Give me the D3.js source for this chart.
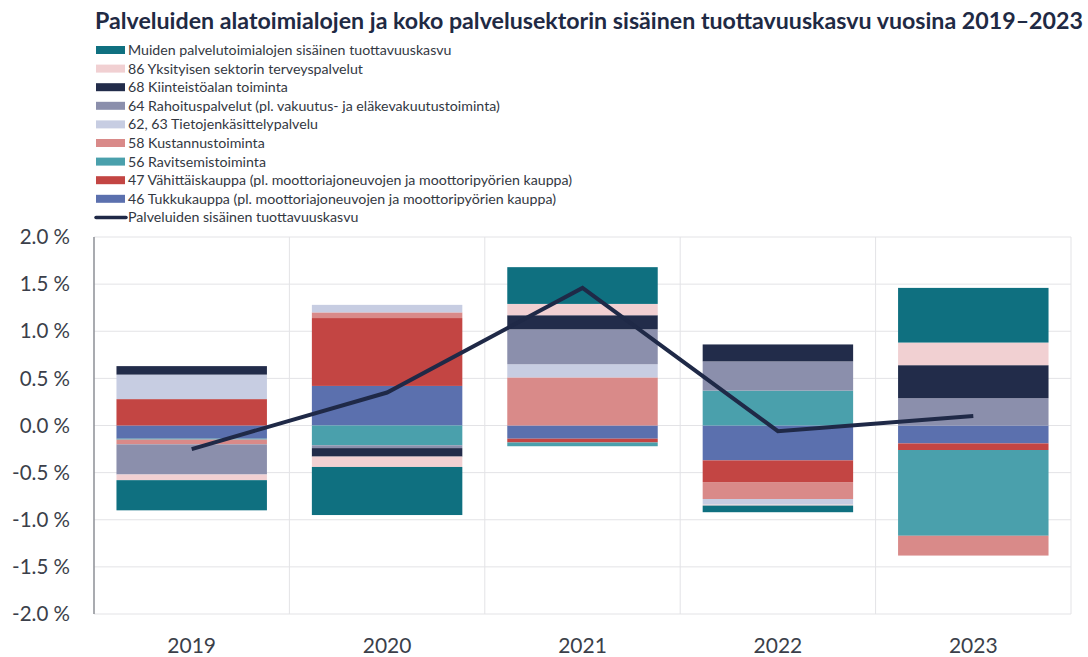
<!DOCTYPE html>
<html>
<head>
<meta charset="utf-8">
<script src="https://cdn.jsdelivr.net/npm/d3@7"></script>
<style>
  body { margin: 0; background: #fff; }
  text { font-family: Lato, "Open Sans", sans-serif; }
</style>
</head>
<body>
<svg id="chart" width="1088" height="657"></svg>
<script>
// years on the x axis
const years = ["2019", "2020", "2021", "2022", "2023"];

// contributions, percentage points
const tukku      = [-0.14,  0.42, -0.14, -0.37, -0.19];
const vahittais  = [ 0.28,  0.72, -0.04, -0.23, -0.07];
const ravitsemis = [-0.01, -0.21, -0.04,  0.37, -0.91];
const kustannus  = [-0.05,  0.06,  0.51, -0.18, -0.21];
const tietojen   = [ 0.26,  0.08,  0.14, -0.06,  0.00];
const rahoitus   = [-0.32, -0.03,  0.37,  0.31,  0.29];
const kiinteisto = [ 0.09, -0.09,  0.15,  0.18,  0.35];
const terveys    = [-0.06, -0.11,  0.12, -0.01,  0.24];
const muut       = [-0.32, -0.51,  0.39, -0.07,  0.58];

// total services productivity growth (line)
const total = [-0.25, 0.35, 1.46, -0.06, 0.10];

const yTicks = [-2, -1.5, -1, -0.5, 0, 0.5, 1, 1.5, 2];

// series in stacking order (bottom of stack first)
const series = [
  {key: "tukku",      name: "46 Tukkukauppa (pl. moottoriajoneuvojen ja moottoripyörien kauppa)", color: "#5b70ae", values: tukku},
  {key: "vahittais",  name: "47 Vähittäiskauppa (pl. moottoriajoneuvojen ja moottoripyörien kauppa)", color: "#c34543", values: vahittais},
  {key: "ravitsemis", name: "56 Ravitsemistoiminta", color: "#4aa0ac", values: ravitsemis},
  {key: "kustannus",  name: "58 Kustannustoiminta", color: "#d98a89", values: kustannus},
  {key: "tietojen",   name: "62, 63 Tietojenkäsittelypalvelu", color: "#c7cde2", values: tietojen},
  {key: "rahoitus",   name: "64 Rahoituspalvelut (pl. vakuutus- ja eläkevakuutustoiminta)", color: "#8b8fac", values: rahoitus},
  {key: "kiinteisto", name: "68 Kiinteistöalan toiminta", color: "#222c4a", values: kiinteisto},
  {key: "terveys",    name: "86 Yksityisen sektorin terveyspalvelut", color: "#f1d0d2", values: terveys},
  {key: "muut",       name: "Muiden palvelutoimialojen sisäinen tuottavuuskasvu", color: "#0f7080", values: muut}
];
const lineName = "Palveluiden sisäinen tuottavuuskasvu";
const lineColor = "#1f2947";

const svg = d3.select("#chart");
const margin = {top: 237, right: 17, bottom: 43, left: 94};
const width = 1088, height = 657;

const rows = years.map((y, i) => {
  const r = {year: y};
  series.forEach(s => r[s.key] = s.values[i]);
  return r;
});

const stack = d3.stack()
    .keys(series.map(s => s.key))
    .offset(d3.stackOffsetDiverging);
const stacked = stack(rows);

const x = d3.scaleBand()
    .domain(years)
    .range([margin.left, width - margin.right])
    .paddingInner(0.23)
    .paddingOuter(0.115);

const xCat = d3.scaleBand()
    .domain(years)
    .range([margin.left, width - margin.right]);

const y = d3.scaleLinear()
    .domain([-2, 2])
    .range([height - margin.bottom, margin.top]);

// grid
const grid = svg.append("g");
grid.selectAll("line.h")
  .data(yTicks)
  .join("line")
    .attr("x1", margin.left)
    .attr("x2", width - margin.right)
    .attr("y1", d => y(d))
    .attr("y2", d => y(d))
    .attr("stroke", "#e3e3e6")
    .attr("stroke-width", 1);
grid.selectAll("line.v")
  .data(years)
  .join("line")
    .attr("x1", d => xCat(d) + xCat.bandwidth())
    .attr("x2", d => xCat(d) + xCat.bandwidth())
    .attr("y1", y(2))
    .attr("y2", y(-2))
    .attr("stroke", "#e3e3e6")
    .attr("stroke-width", 1);

// bars
svg.append("g")
  .selectAll("g")
  .data(stacked)
  .join("g")
    .attr("fill", (d, i) => series[i].color)
  .selectAll("rect")
  .data(d => d)
  .join("rect")
    .attr("x", d => x(d.data.year))
    .attr("width", x.bandwidth())
    .attr("y", d => y(Math.max(d[0], d[1])))
    .attr("height", d => Math.abs(y(d[0]) - y(d[1])));

// left axis line
svg.append("line")
    .attr("x1", margin.left).attr("x2", margin.left)
    .attr("y1", y(2)).attr("y2", y(-2))
    .attr("stroke", "#8d8f96")
    .attr("stroke-width", 1.5);

// total line
const line = d3.line()
    .x((d, i) => x(years[i]) + x.bandwidth() / 2)
    .y(d => y(d));
svg.append("path")
    .datum(total)
    .attr("fill", "none")
    .attr("stroke", lineColor)
    .attr("stroke-width", 4)
    .attr("stroke-linejoin", "miter")
    .attr("d", line);

// y axis labels
const fmt = v => v.toFixed(1) + " %";
svg.append("g")
  .selectAll("text")
  .data(yTicks)
  .join("text")
    .attr("x", 70)
    .attr("y", d => y(d))
    .attr("dy", "0.35em")
    .attr("text-anchor", "end")
    .attr("font-size", 20.5)
    .attr("fill", "#3b3f4a")
    .text(fmt);

// x axis labels
svg.append("g")
  .selectAll("text")
  .data(years)
  .join("text")
    .attr("x", d => x(d) + x.bandwidth() / 2)
    .attr("y", 653)
    .attr("text-anchor", "middle")
    .attr("font-size", 21)
    .attr("fill", "#3b3f4a")
    .text(d => d);

// title
const title = svg.append("text")
    .attr("x", 95)
    .attr("y", 29)
    .attr("font-size", 21)
    .attr("font-weight", "bold")
    .attr("fill", "#1f2a44")
    .text("Palveluiden alatoimialojen ja koko palvelusektorin sisäinen tuottavuuskasvu vuosina 2019–2023");
const tw = title.node().getComputedTextLength();
title.attr("font-size", 21 * 988 / tw);

// legend (reverse order, line last)
const legendItems = series.slice().reverse().map(s => ({name: s.name, color: s.color, type: "rect"}));
legendItems.push({name: lineName, color: lineColor, type: "line"});

const legend = svg.append("g");
const li = legend.selectAll("g")
  .data(legendItems)
  .join("g")
    .attr("transform", (d, i) => `translate(96,${50 + i * 18.6})`);
li.filter(d => d.type === "rect").append("rect")
    .attr("x", 0).attr("y", -4)
    .attr("width", 29).attr("height", 8)
    .attr("fill", d => d.color);
li.filter(d => d.type === "line").append("line")
    .attr("x1", 0).attr("x2", 30)
    .attr("y1", 0).attr("y2", 0)
    .attr("stroke", d => d.color)
    .attr("stroke-width", 3.5)
    .attr("stroke-linecap", "round");
li.append("text")
    .attr("x", 32)
    .attr("y", 0)
    .attr("dy", "0.35em")
    .attr("font-size", 14.2)
    .attr("fill", "#333842")
    .text(d => d.name);
</script>
</body>
</html>
